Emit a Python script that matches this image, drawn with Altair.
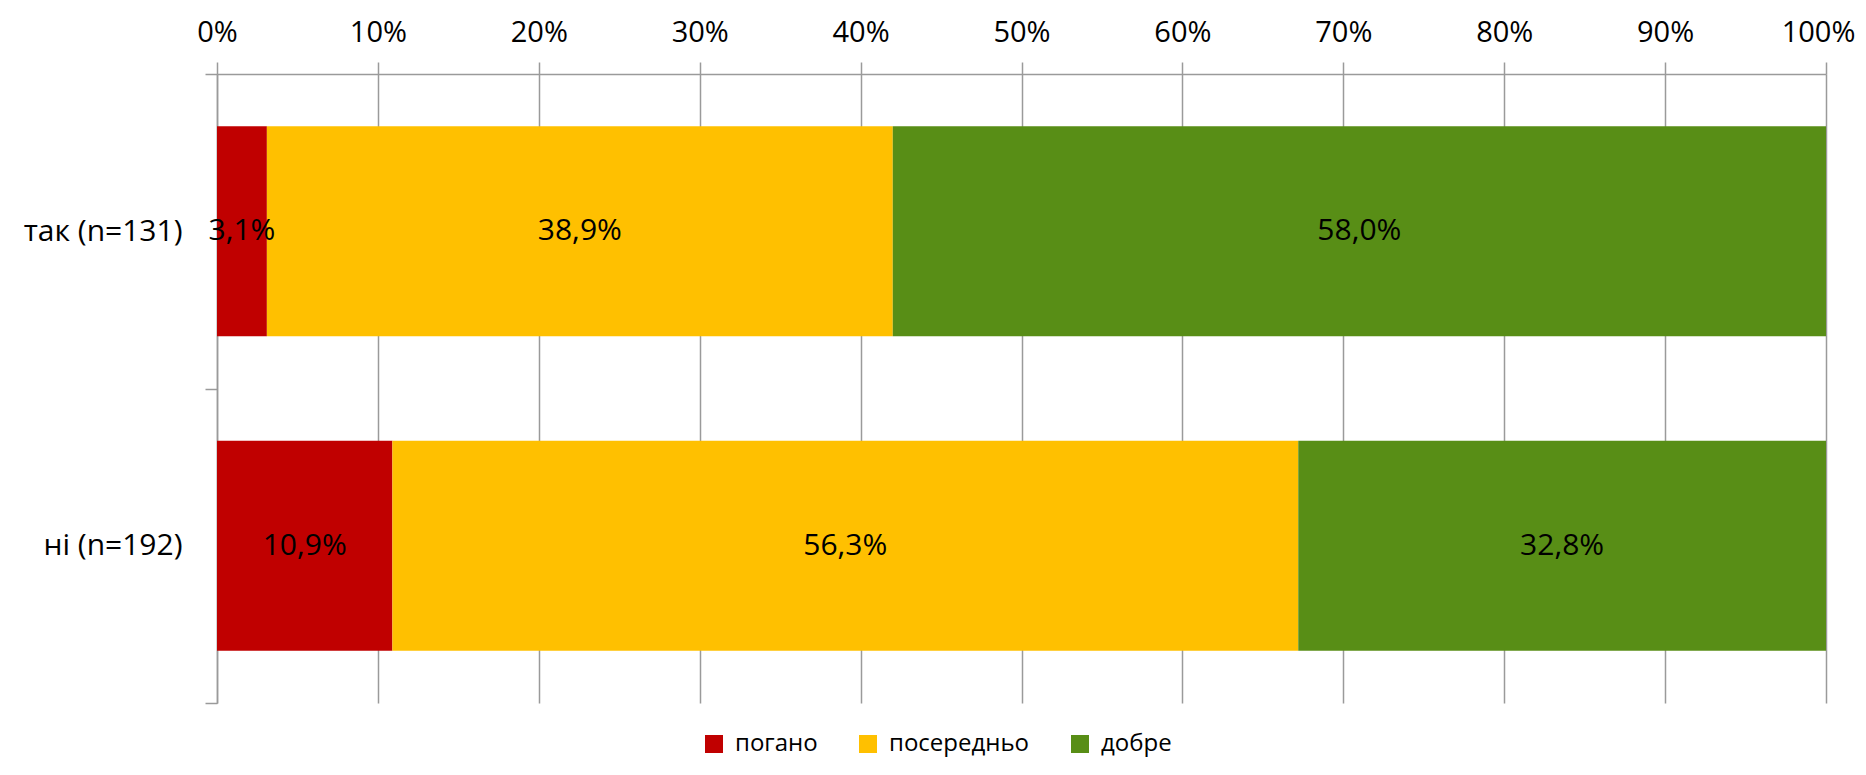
import altair as alt
import pandas as pd

categories = ["так (n=131)", "ні (n=192)"]
series = ["погано", "посередньо", "добре"]
values_tak = [3.1, 38.9, 58.0]
values_ni = [10.9, 56.3, 32.8]
colors = ["#C00000", "#FFC000", "#588E16"]
tick_values = [0, 0.1, 0.2, 0.3, 0.4, 0.5, 0.6, 0.7, 0.8, 0.9, 1.0]

rows = []
for cat, vals in zip(categories, [values_tak, values_ni]):
    for i, (s, v) in enumerate(zip(series, vals)):
        rows.append({
            "cat": cat,
            "series": s,
            "order": i,
            "value": v / 100.0,
            "label": f"{v:.1f}%".replace(".", ","),
        })
df = pd.DataFrame(rows)

FONT = "Open Sans"
GRID = "#9A9A9A"

base = alt.Chart(df).transform_stack(
    stack="value", groupby=["cat"], as_=["x0", "x1"],
    sort=[alt.SortField("order", order="ascending")]
).transform_calculate(mid="(datum.x0 + datum.x1) / 2")

y_enc = alt.Y(
    "cat:N", sort=categories, title=None,
    scale=alt.Scale(paddingInner=0, paddingOuter=0),
    axis=alt.Axis(
        tickBand="extent", tickSize=12, tickColor=GRID, tickWidth=1.5,
        domainColor=GRID, domainWidth=1.5,
        labelFont=FONT, labelFontSize=30, labelColor="black",
        labelPadding=23, grid=False,
    ),
)

x_axis = alt.Axis(
    orient="top", values=tick_values, format=".0%", title=None,
    grid=True, gridColor=GRID, gridWidth=1.5,
    domainColor=GRID, domainWidth=1.5,
    tickColor=GRID, tickWidth=1.5, tickSize=12,
    labelFont=FONT, labelFontSize=29, labelColor="black",
    labelPadding=15, labelFlush=False,
    labelOffset={"condition": {"test": "datum.value >= 1", "value": -8}, "value": 0},
)

bars = base.mark_bar(height=alt.RelativeBandSize(0.667)).encode(
    x=alt.X("x0:Q", scale=alt.Scale(domain=[0, 1], nice=False), axis=x_axis),
    x2="x1:Q",
    y=y_enc,
    color=alt.Color(
        "series:N", sort=series,
        scale=alt.Scale(domain=series, range=colors),
        legend=alt.Legend(
            title=None, orient="none", direction="horizontal",
            legendX=485, legendY=658, padding=0,
            symbolType="square", symbolSize=324, symbolStrokeWidth=0,
            symbolOpacity=1,
            labelFont=FONT, labelFontSize=24, labelColor="black",
            labelOffset=9, columnPadding=38,
        ),
    ),
)

text = base.mark_text(font=FONT, fontSize=30, color="black").encode(
    x="mid:Q",
    y=alt.Y("cat:N", sort=categories),
    text="label:N",
)

chart = (bars + text).properties(
    width=1609, height=629,
    autosize=alt.AutoSizeParams(type="none"),
    padding={"left": 209, "top": 66, "right": 32, "bottom": 60},
).configure_view(stroke=None)

chart.save("out.html", embed_options={"renderer": "svg", "actions": False})
